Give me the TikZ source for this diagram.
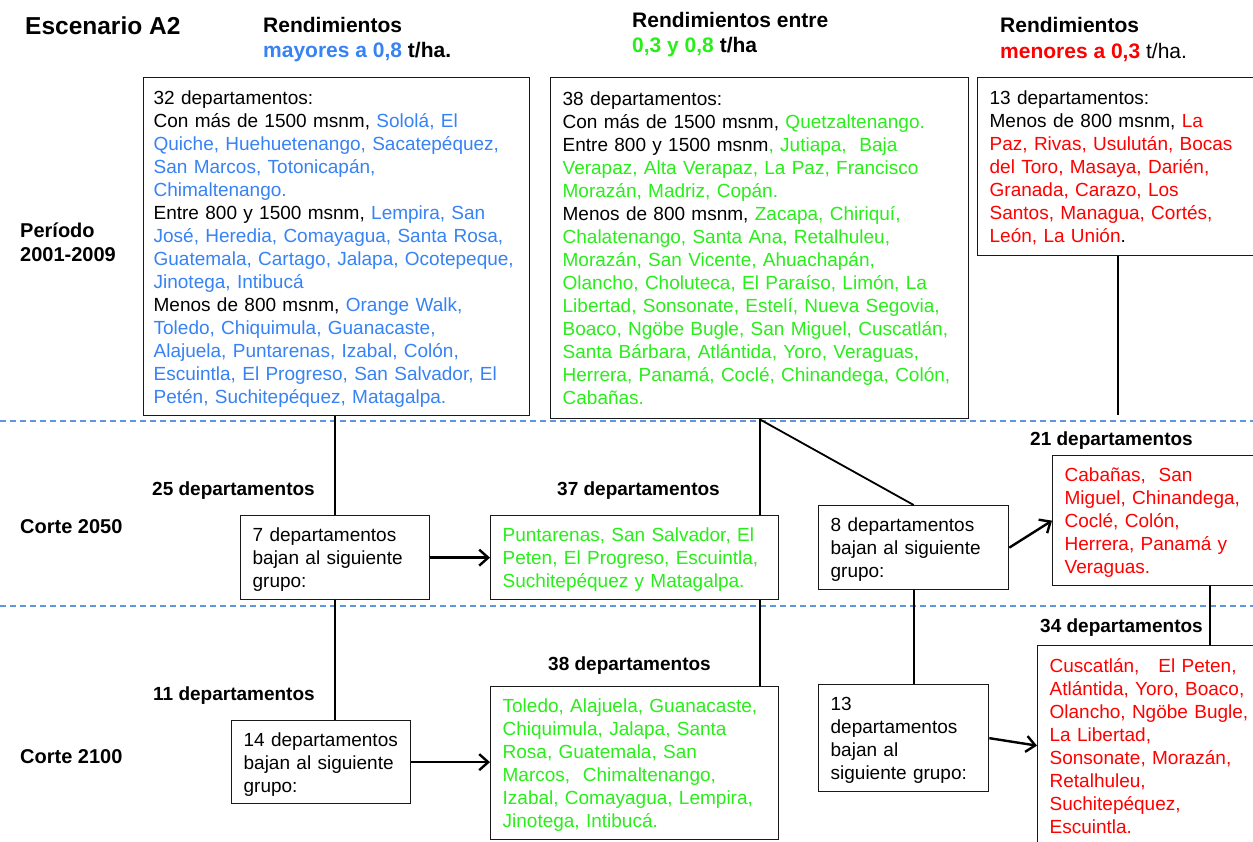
\documentclass[tikz,border=0pt]{standalone}
\usepackage{fontspec}
\setmainfont{Liberation Sans}
\usetikzlibrary{arrows.meta,calc}
\definecolor{cblue}{RGB}{55,130,245}
\definecolor{cgreen}{RGB}{40,238,25}
\definecolor{cred}{RGB}{255,0,0}
\definecolor{gridblue}{RGB}{95,150,225}
\newcommand{\bl}[1]{\textcolor{cblue}{#1}}
\newcommand{\gr}[1]{\textcolor{cgreen}{#1}}
\newcommand{\rd}[1]{\textcolor{cred}{#1}}
\newcommand{\spread}[2]{\makebox[#1][s]{#2}}
% text lines of a box, set a little below the box's centre
\newcommand{\rows}[1]{\raisebox{-2.5pt}[\height][\depth]{\begin{tabular}{@{}l@{}}#1\end{tabular}}}

\begin{document}
\begin{tikzpicture}[x=1pt,y=-1pt,
  box/.style={draw=black!90,line width=1.3pt,fill=white,anchor=north west,
    inner xsep=12pt,inner ysep=0pt,align=left,
    font=\fontsize{19}{23}\selectfont},
  lbl/.style={anchor=base west,inner sep=0pt,font=\bfseries\fontsize{19}{23}\selectfont},
  side/.style={anchor=base west,inner sep=0pt,font=\bfseries\fontsize{20}{24}\selectfont},
  head/.style={anchor=base west,inner sep=0pt,font=\bfseries\fontsize{21}{25}\selectfont},
  link/.style={line width=1.8pt,black},
  arr/.style={line width=2.4pt,black,-{Straight Barb[length=9pt,width=16pt]}},
  gridline/.style={gridblue,line width=2pt,dash pattern=on 6pt off 4pt}]

\useasboundingbox (0,0) rectangle (1253,842);
\clip (0,0) rectangle (1253,842);

% period separators
\coordinate (s1l) at (0,421);
\coordinate (s1r) at (1253,421);
\coordinate (s2l) at (0,606);
\coordinate (s2r) at (1253,606);
\draw[gridline] (s1l) -- (s1r);
\draw[gridline] (s2l) -- (s2r);

% titles
\node[anchor=base west,inner sep=0pt,font=\bfseries\fontsize{24.5}{28}\selectfont] (title) at (25,35) {Escenario A2};
\node[head] (h1a) at (263,33) {Rendimientos};
\node[head] (h1b) at (263,58) {\bl{mayores a 0,8} t/ha.};
\node[head] (h2a) at (632,28) {Rendimientos entre};
\node[head] (h2b) at (632,53) {\gr{0,3 y 0,8} t/ha};
\node[head] (h3a) at (1000,33) {Rendimientos};
\node[head] (h3b) at (1000,59) {\rd{menores a 0,3} \mdseries t/ha.};

% row labels
\node[side] (p1) at (20,238) {Período};
\node[side] (p2) at (20,262) {2001-2009};
\node[side] (c1) at (20,533) {Corte 2050};
\node[side] (c2) at (20,763) {Corte 2100};

% 2001-2009
\node[box,inner xsep=10pt,text width=366pt,minimum width=386pt,minimum height=338pt] (b1) at (143,77) {\rows{
32 departamentos:\\
Con más de 1500 msnm, \bl{Sololá, El}\\
\bl{Quiche, Huehuetenango, Sacatepéquez,}\\
\bl{San Marcos, Totonicapán,}\\
\bl{Chimaltenango.}\\
Entre 800 y 1500 msnm, \bl{Lempira, San}\\
\bl{José, Heredia, Comayagua, Santa Rosa,}\\
\bl{Guatemala, Cartago, Jalapa, Ocotepeque,}\\
\bl{Jinotega, Intibucá}\\
Menos de 800 msnm, \bl{Orange Walk,}\\
\bl{Toledo, Chiquimula, Guanacaste,}\\
\bl{Alajuela, Puntarenas, Izabal, Colón,}\\
\bl{Escuintla, El Progreso, San Salvador, El}\\
\bl{Petén, Suchitepéquez, Matagalpa.}}};

\node[box,text width=394pt,minimum width=418pt,minimum height=341pt] (b2) at (550,77) {\rows{
38 departamentos:\\
Con más de 1500 msnm, \gr{Quetzaltenango.}\\
Entre 800 y 1500 msnm\gr{, Jutiapa,\ \ Baja}\\
\gr{Verapaz, Alta Verapaz, La Paz, Francisco}\\
\gr{Morazán, Madriz, Copán.}\\
Menos de 800 msnm, \gr{Zacapa, Chiriquí,}\\
\gr{Chalatenango, Santa Ana, Retalhuleu,}\\
\gr{Morazán, San Vicente, Ahuachapán,}\\
\gr{Olancho, Choluteca, El Paraíso, Limón, La}\\
\gr{Libertad, Sonsonate, Estelí, Nueva Segovia,}\\
\gr{Boaco, Ngöbe Bugle, San Miguel, Cuscatlán,}\\
\gr{Santa Bárbara, Atlántida, Yoro, Veraguas,}\\
\gr{Herrera, Panamá, Coclé, Chinandega, Colón,}\\
\gr{Cabañas.}}};

\node[box,text width=256pt,minimum width=280pt,minimum height=178pt] (b3) at (977,77) {\rows{
13 departamentos:\\
Menos de 800 msnm, \rd{La}\\
\rd{Paz, Rivas, Usulután, Bocas}\\
\rd{del Toro, Masaya, Darién,}\\
\rd{Granada, Carazo, Los}\\
\rd{Santos, Managua, Cortés,}\\
\rd{León, La Unión}.}};

% Corte 2050
\node[box,text width=165pt,minimum width=189pt,minimum height=84pt] (d7) at (240,515) {\rows{
7 departamentos\\ bajan al siguiente\\ grupo:}};
\node[box,text width=264pt,minimum width=288pt,minimum height=84pt] (g1) at (490,515) {\rows{
\gr{\spread{263pt}{Puntarenas, San Salvador, El}}\\
\gr{\spread{261pt}{Peten, El Progreso, Escuintla,}}\\
\gr{Suchitepéquez y Matagalpa.}}};
\node[box,text width=166pt,minimum width=190pt,minimum height=84pt] (d8) at (818,505) {\rows{
8 departamentos\\ bajan al siguiente\\ grupo:}};
\node[box,text width=290pt,minimum width=314pt,minimum height=130pt] (r1) at (1052,455) {\rows{
\rd{Cabañas,\ \ San}\\
\rd{Miguel, Chinandega,}\\
\rd{Coclé, Colón,}\\
\rd{\spread{179pt}{Herrera, Panamá y}}\\
\rd{Veraguas.}}};

% Corte 2100
\node[box,text width=155pt,minimum width=179pt,minimum height=83pt] (d14) at (231,720) {\rows{
14 departamentos\\ bajan al siguiente\\ grupo:}};
\node[box,text width=264pt,minimum width=288pt,minimum height=153pt] (g2) at (490,686) {\rows{
\gr{\spread{263pt}{Toledo, Alajuela, Guanacaste,}}\\
\gr{Chiquimula, Jalapa, Santa}\\
\gr{Rosa, Guatemala, San}\\
\gr{Marcos,\ \ Chimaltenango,}\\
\gr{\spread{263pt}{Izabal, Comayagua, Lempira,}}\\
\gr{Jinotega, Intibucá.}}};
\node[box,text width=146pt,minimum width=170pt,minimum height=107pt] (d13) at (818,684) {\rows{
13\\ departamentos\\ bajan al\\ siguiente grupo:}};
\node[box,text width=276pt,minimum width=300pt,minimum height=200pt] (r2) at (1037,645) {\rows{
\rd{\spread{189pt}{Cuscatlán,\ \ \ El Peten,}}\\
\rd{Atlántida,\ Yoro,\ Boaco,}\\
\rd{Olancho, Ngöbe Bugle,}\\
\rd{La Libertad,}\\
\rd{Sonsonate, Morazán,}\\
\rd{Retalhuleu,}\\
\rd{Suchitepéquez,}\\
\rd{Escuintla.}}};

% counts
\node[lbl] (n25) at (152,495) {25 departamentos};
\node[lbl] (n37) at (557,495) {37 departamentos};
\node[lbl] (n21) at (1030,445) {21 departamentos};
\node[lbl] (n11) at (153,700) {11 departamentos};
\node[lbl] (n38) at (548,670) {38 departamentos};
\node[lbl] (n34) at (1040,632) {34 departamentos};

% connectors
\coordinate (cut3) at (1117,415);
\draw[link] (b1.south -| d7.north) -- (d7.north);
\draw[link] (b2.south) -- (b2.south |- g1.north);
\draw[link] (b2.south) -- (d8.north);
\draw[link] (b3.south) -- (b3.south |- cut3);
\draw[link] (d7.south) -- (d7.south |- d14.north);
\draw[link] (b2.south |- g1.south) -- (b2.south |- g2.north);
\draw[link] (d8.south) -- (d8.south |- d13.north);
\draw[link] (r1.south) -- (r1.south |- r2.north);

\draw[arr] (d7.east) -- (d7.east -| g1.west);
\draw[arr] (d8.east) -- (r1.west);
\draw[arr] (d14.east) -- (d14.east -| g2.west);
\draw[arr] (d13.east) -- (r2.west);
\end{tikzpicture}
\end{document}
